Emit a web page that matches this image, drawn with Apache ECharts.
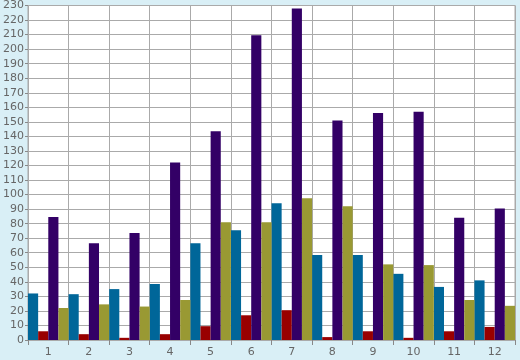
<!DOCTYPE html>
<html><head><meta charset="utf-8">
<script src="https://cdn.jsdelivr.net/npm/echarts@6/dist/echarts.min.js"></script>
<style>html,body{margin:0;padding:0;background:#d9eff6;}#c{width:520px;height:360px;}</style>
</head><body><div id="c"></div>
<script>
var categories = ['1','2','3','4','5','6','7','8','9','10','11','12'];
var blueValues   = [32, 31.5, 35, 38.5, 66.5, 75.5, 94, 58.5, 58.5, 45.5, 36.5, 41];
var redValues    = [6, 4, 1.5, 4, 9.5, 17, 20.5, 2, 6, 1.5, 6, 9];
var purpleValues = [84.5, 66.5, 73.5, 122, 143.5, 209.5, 228, 151, 156, 157, 84, 90.5];
var oliveValues  = [22, 24.5, 23, 27.5, 81, 81, 97.5, 92, 52, 51.5, 27.5, 23.5];
var yTicks = {min: 0, max: 230, interval: 10};

var chart = echarts.init(document.getElementById('c'), null, {renderer: 'canvas'});
function bar(name, data, color) {
  return {name: name, type: 'bar', data: data, barGap: '0%', barCategoryGap: '0%',
    itemStyle: {color: color}, animation: false};
}
chart.setOption({
  backgroundColor: '#d9eff6',
  animation: false,
  grid: {left: 26, right: 5, top: 5, bottom: 20, show: true, backgroundColor: '#ffffff', borderColor: '#aaaaaa', borderWidth: 1},
  xAxis: {
    type: 'category', data: categories,
    axisLine: {show: false},
    axisTick: {show: true, length: 5, lineStyle: {color: '#888888'}},
    axisLabel: {color: '#666666', fontFamily: 'DejaVu Sans', fontSize: 11, margin: 7},
    splitLine: {show: true, lineStyle: {color: '#aaaaaa', width: 1}}
  },
  yAxis: {
    type: 'value', min: yTicks.min, max: yTicks.max, interval: yTicks.interval,
    axisLine: {show: false},
    axisTick: {show: true, length: 3, lineStyle: {color: '#888888'}},
    axisLabel: {color: '#666666', fontFamily: 'DejaVu Sans', fontSize: 11, margin: 4},
    splitLine: {show: true, lineStyle: {color: '#aaaaaa', width: 1}}
  },
  series: [
    bar('A', blueValues, '#006699'),
    bar('B', redValues, '#990000'),
    bar('C', purpleValues, '#330066'),
    bar('D', oliveValues, '#999933')
  ]
});
</script></body></html>
